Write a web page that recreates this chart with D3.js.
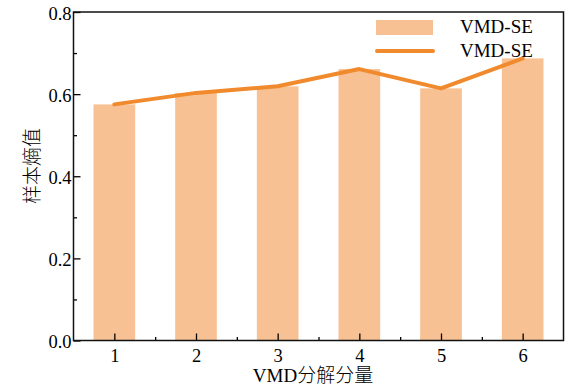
<!DOCTYPE html>
<html>
<head>
<meta charset="utf-8">
<script src="https://cdn.jsdelivr.net/npm/d3@7/dist/d3.min.js"></script>
<style>
  html, body { margin: 0; padding: 0; background: #fff; }
  svg { display: block; }
  text { font-family: "Liberation Serif", "Times New Roman", serif; fill: #000; }
  .cjk { font-family: "Liberation Serif", "Noto Sans CJK SC", serif; font-weight: 300; }
</style>
</head>
<body>
<svg id="chart" width="571" height="389"></svg>
<script>
// VMD components and their sample entropy
const components = [1, 2, 3, 4, 5, 6];
const barValues = [0.575, 0.603, 0.619, 0.661, 0.614, 0.687];
const lineValues = [0.575, 0.603, 0.619, 0.661, 0.614, 0.687];
const yTicks = [0.0, 0.2, 0.4, 0.6, 0.8];
const yMinorTicks = [0.1, 0.3, 0.5, 0.7];
const xMinorTicks = [1.5, 2.5, 3.5, 4.5, 5.5];
const seriesName = "VMD-SE";
const xTitle = "VMD分解分量";
const yTitle = "样本熵值";

const barColor = "#F8C193";
const lineColor = "#F18A2D";

const svg = d3.select("#chart");
const plotLeft = 73.5, plotRight = 563.5, plotTop = 12, plotBottom = 340.5;

const x = d3.scaleLinear().domain([0.5, 6.5]).range([plotLeft, plotRight]);
const y = d3.scaleLinear().domain([0, 0.8]).range([plotBottom, plotTop]);
const barW = x(1.51) - x(1);

// bars
svg.append("g").selectAll("rect")
  .data(components)
  .join("rect")
  .attr("x", (d) => x(d) - barW / 2)
  .attr("y", (d, i) => y(barValues[i]))
  .attr("width", barW)
  .attr("height", (d, i) => y(0) - y(barValues[i]))
  .attr("fill", barColor);

// line
const line = d3.line().x((d) => x(d[0])).y((d) => y(d[1]));
svg.append("path")
  .datum(components.map((c, i) => [c, lineValues[i]]))
  .attr("d", line)
  .attr("fill", "none")
  .attr("stroke", lineColor)
  .attr("stroke-width", 4)
  .attr("stroke-linecap", "round")
  .attr("stroke-linejoin", "round");

// axes with inward ticks
const fmt = d3.format(".1f");
const yAxis = d3.axisLeft(y).tickValues(yTicks).tickFormat(fmt).tickSizeInner(-7).tickSizeOuter(0).tickPadding(2);
const yMinor = d3.axisLeft(y).tickValues(yMinorTicks).tickFormat("").tickSizeInner(-3.5).tickSizeOuter(0);
const xAxis = d3.axisBottom(x).tickValues(components).tickFormat(d3.format("d")).tickSizeInner(-7).tickSizeOuter(0).tickPadding(8);
const xMinor = d3.axisBottom(x).tickValues(xMinorTicks).tickFormat("").tickSizeInner(-3.5).tickSizeOuter(0);

function style(g) {
  g.select(".domain").remove();
  g.selectAll("line").attr("stroke", "#000").attr("stroke-width", 1.3);
  g.selectAll("text").attr("font-size", 18.5).attr("fill", "#000")
    .style("font-family", '"Liberation Serif", serif');
}

svg.append("g").attr("transform", `translate(${plotLeft},0)`).call(yAxis).call(style)
  .selectAll("text").attr("dy", "0.4em");
svg.append("g").attr("transform", `translate(${plotLeft},0)`).call(yMinor).call(style);
svg.append("g").attr("transform", `translate(0,${plotBottom})`).call(xAxis).call(style);
svg.append("g").attr("transform", `translate(0,${plotBottom})`).call(xMinor).call(style);

// frame
svg.append("rect")
  .attr("x", plotLeft).attr("y", plotTop)
  .attr("width", plotRight - plotLeft).attr("height", plotBottom - plotTop)
  .attr("fill", "none").attr("stroke", "#111").attr("stroke-width", 1.5);

// axis titles
svg.append("text")
  .attr("class", "cjk")
  .attr("x", 313).attr("y", 382)
  .attr("text-anchor", "middle")
  .attr("font-size", 19)
  .text(xTitle);

svg.append("text")
  .attr("class", "cjk")
  .attr("transform", `translate(39,166) rotate(-90)`)
  .attr("text-anchor", "middle")
  .attr("font-size", 19)
  .text(yTitle);

// legend
const lg = svg.append("g");
lg.append("rect").attr("x", 376).attr("y", 20).attr("width", 57).attr("height", 15).attr("fill", barColor);
lg.append("line").attr("x1", 377).attr("x2", 433).attr("y1", 51).attr("y2", 51)
  .attr("stroke", lineColor).attr("stroke-width", 4).attr("stroke-linecap", "round");
lg.append("text").attr("x", 460).attr("y", 33).attr("font-size", 19).text(seriesName);
lg.append("text").attr("x", 460).attr("y", 57).attr("font-size", 19).text(seriesName);
</script>
</body>
</html>
